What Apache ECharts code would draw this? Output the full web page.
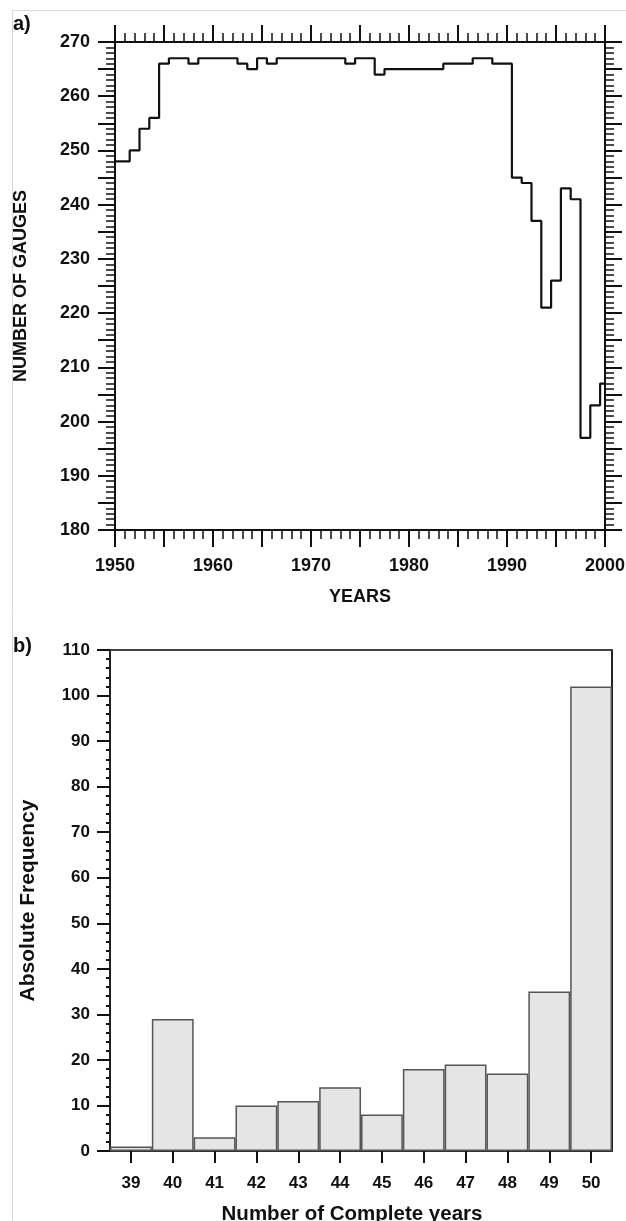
<!DOCTYPE html>
<html>
<head>
<meta charset="utf-8">
<script src="https://cdn.jsdelivr.net/npm/echarts@6/dist/echarts.min.js"></script>
<style>
  html, body { margin: 0; padding: 0; background: #fff; }
  #chart { width: 626px; height: 1221px; }
</style>
</head>
<body>
<div id="chart"></div>
<script>
// (a) number of gauges reporting each year
const gaugeYears = [
  1950, 1951, 1952, 1953, 1954, 1955, 1956, 1957, 1958, 1959,
  1960, 1961, 1962, 1963, 1964, 1965, 1966, 1967, 1968, 1969,
  1970, 1971, 1972, 1973, 1974, 1975, 1976, 1977, 1978, 1979,
  1980, 1981, 1982, 1983, 1984, 1985, 1986, 1987, 1988, 1989,
  1990, 1991, 1992, 1993, 1994, 1995, 1996, 1997, 1998, 1999,
  2000
];
const gaugeCounts = [
  248, 248, 250, 254, 256, 266, 267, 267, 266, 267,
  267, 267, 267, 266, 265, 267, 266, 267, 267, 267,
  267, 267, 267, 267, 266, 267, 267, 264, 265, 265,
  265, 265, 265, 265, 266, 266, 266, 267, 267, 266,
  266, 245, 244, 237, 221, 226, 243, 241, 197, 203,
  207
];

// (b) histogram of record length
const completeYears = ['39', '40', '41', '42', '43', '44', '45', '46', '47', '48', '49', '50'];
const frequency = [1, 29, 3, 10, 11, 14, 8, 18, 19, 17, 35, 102];

const FONT = 'Liberation Sans';
const INK = '#111';

const tenOnly = v => (v % 10 === 0 ? String(v) : '');

function framedAxis(extra) {
  return Object.assign({
    type: 'value',
    axisLine: { show: true, onZero: false, lineStyle: { color: INK, width: 2 } },
    axisTick: { show: true, length: 17, lineStyle: { color: INK, width: 2 } },
    minorTick: { show: true, splitNumber: 5, length: 9, lineStyle: { color: INK, width: 1.5 } },
    splitLine: { show: false },
    axisLabel: { show: false }
  }, extra);
}

const chart = echarts.init(document.getElementById('chart'), null, { renderer: 'canvas' });

chart.setOption({
  animation: false,
  backgroundColor: '#fff',
  textStyle: { fontFamily: FONT },
  grid: [
    { left: 115, top: 42, width: 490, height: 488, containLabel: false, outerBoundsMode: 'none' },
    { left: 110, top: 650, width: 502, height: 501, containLabel: false, outerBoundsMode: 'none' }
  ],
  xAxis: [
    framedAxis({
      gridIndex: 0, position: 'bottom', min: 1950, max: 2000, interval: 5,
      axisLabel: {
        show: true, formatter: tenOnly, margin: 27,
        fontFamily: FONT, fontWeight: 'bold', fontSize: 18, color: INK
      },
      name: 'YEARS', nameLocation: 'middle', nameGap: 58,
      nameTextStyle: { fontFamily: FONT, fontWeight: 'bold', fontSize: 18, color: INK }
    }),
    framedAxis({ gridIndex: 0, position: 'top', min: 1950, max: 2000, interval: 5 }),
    {
      type: 'category', gridIndex: 1, position: 'bottom', data: completeYears,
      axisLine: { show: true, onZero: false, lineStyle: { color: '#333', width: 2 } },
      axisTick: { show: true, alignWithLabel: true, length: 12, lineStyle: { color: INK, width: 2 } },
      axisLabel: { margin: 24, fontFamily: FONT, fontWeight: 'bold', fontSize: 17, color: INK },
      name: 'Number of Complete years', nameLocation: 'middle', nameGap: 53,
      nameTextStyle: {
        fontFamily: FONT, fontWeight: 'bold', fontSize: 20.5, color: INK,
        padding: [0, 18, 0, 0]
      }
    },
    {
      type: 'category', gridIndex: 1, position: 'top', data: completeYears,
      axisLine: { show: true, onZero: false, lineStyle: { color: '#444', width: 2 } },
      axisTick: { show: false }, axisLabel: { show: false }
    }
  ],
  yAxis: [
    framedAxis({
      gridIndex: 0, position: 'left', min: 180, max: 270, interval: 5,
      axisLabel: {
        show: true, formatter: tenOnly, margin: 25,
        fontFamily: FONT, fontWeight: 'bold', fontSize: 18, color: INK
      },
      name: 'NUMBER OF GAUGES', nameLocation: 'middle', nameGap: 85,
      nameTextStyle: { fontFamily: FONT, fontWeight: 'bold', fontSize: 18, color: INK }
    }),
    framedAxis({ gridIndex: 0, position: 'right', min: 180, max: 270, interval: 5 }),
    {
      type: 'value', gridIndex: 1, position: 'left', min: 0, max: 110, interval: 10,
      axisLine: { show: true, onZero: false, lineStyle: { color: '#222', width: 2 } },
      axisTick: { show: true, length: 13, lineStyle: { color: INK, width: 2 } },
      minorTick: { show: true, splitNumber: 5, length: 4, lineStyle: { color: INK, width: 2 } },
      splitLine: { show: false },
      axisLabel: { margin: 20, fontFamily: FONT, fontWeight: 'bold', fontSize: 17, color: INK },
      name: 'Absolute Frequency', nameLocation: 'middle', nameGap: 71,
      nameTextStyle: { fontFamily: FONT, fontWeight: 'bold', fontSize: 21, color: INK }
    },
    {
      type: 'value', gridIndex: 1, position: 'right', min: 0, max: 110, interval: 10,
      axisLine: { show: true, onZero: false, lineStyle: { color: '#222', width: 2 } },
      axisTick: { show: false }, axisLabel: { show: false }, splitLine: { show: false }
    }
  ],
  series: [
    {
      type: 'line', xAxisIndex: 0, yAxisIndex: 0, step: 'middle',
      data: gaugeYears.map((y, i) => [y, gaugeCounts[i]]),
      symbol: 'none',
      lineStyle: { color: INK, width: 2.2 },
      z: 5
    },
    {
      type: 'bar', xAxisIndex: 2, yAxisIndex: 2,
      data: frequency,
      barCategoryGap: '0%',
      itemStyle: { color: '#e5e5e5', borderColor: '#555', borderWidth: 1.5 }
    }
  ],
  graphic: [
    { type: 'line', shape: { x1: 12, y1: 10.5, x2: 626, y2: 10.5 }, style: { stroke: '#d8d8d8', lineWidth: 1 } },
    { type: 'line', shape: { x1: 12.5, y1: 10, x2: 12.5, y2: 1221 }, style: { stroke: '#d8d8d8', lineWidth: 1 } },
    { type: 'text', left: 13, top: 14, style: { text: 'a)', fontFamily: FONT, fontWeight: 'bold', fontSize: 20, fill: INK } },
    { type: 'text', left: 13, top: 636, style: { text: 'b)', fontFamily: FONT, fontWeight: 'bold', fontSize: 20, fill: INK } }
  ]
});
</script>
</body>
</html>
